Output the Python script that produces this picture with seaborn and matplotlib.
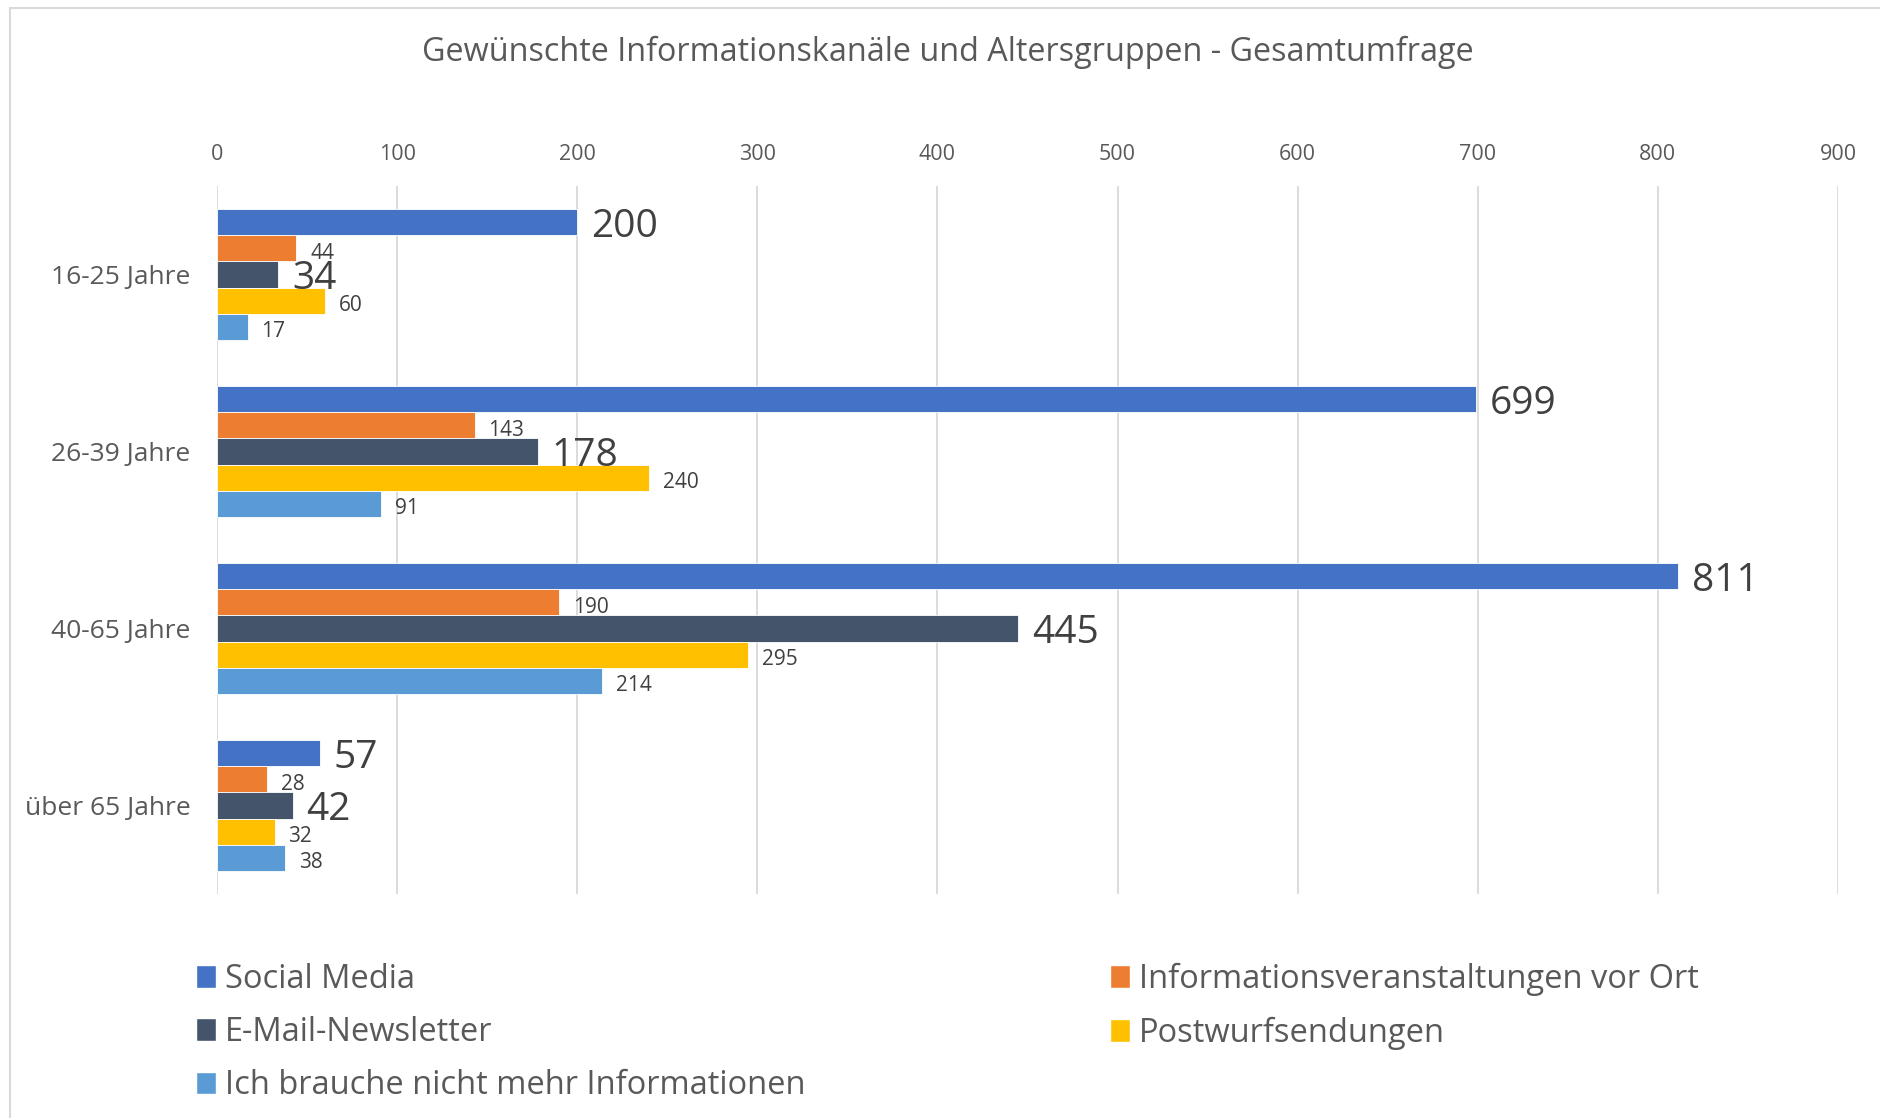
import pandas as pd
import matplotlib.pyplot as plt
import seaborn as sns
from matplotlib.patches import Patch, Rectangle

# Daten aus der Umfrage
altersgruppen = ['16-25 Jahre', '26-39 Jahre', '40-65 Jahre', 'über 65 Jahre']
kanaele = ['Social Media', 'Informationsveranstaltungen vor Ort', 'E-Mail-Newsletter',
           'Postwurfsendungen', 'Ich brauche nicht mehr Informationen']
social_media = [200, 699, 811, 57]
info_vor_ort = [44, 143, 190, 28]
email_newsletter = [34, 178, 445, 42]
postwurf = [60, 240, 295, 32]
keine_info = [17, 91, 214, 38]
x_ticks = [0, 100, 200, 300, 400, 500, 600, 700, 800, 900]

farben = ['#4472C4', '#ED7D31', '#44546A', '#FFC000', '#5B9BD5']

rows = []
for kanal, werte in zip(kanaele, [social_media, info_vor_ort, email_newsletter, postwurf, keine_info]):
    for gruppe, wert in zip(altersgruppen, werte):
        rows.append({'Altersgruppe': gruppe, 'Kanal': kanal, 'Anzahl': wert})
df = pd.DataFrame(rows)

sns.set_style('white')
plt.rcParams['font.family'] = ['Open Sans', 'DejaVu Sans']

fig = plt.figure(figsize=(18.81, 11.18), dpi=100)
ax = fig.add_axes([217 / 1881, 1 - 894 / 1118, (1838 - 217) / 1881, (894 - 186) / 1118])

sns.barplot(data=df, y='Altersgruppe', x='Anzahl', hue='Kanal', order=altersgruppen,
            hue_order=kanaele, palette=dict(zip(kanaele, farben)), orient='h',
            width=0.735, saturation=1, edgecolor='white', linewidth=0.6, ax=ax, legend=False)

# Datenbeschriftungen - Social Media und Newsletter groesser
for i, cont in enumerate(ax.containers):
    if i in (0, 2):
        labels = ax.bar_label(cont, padding=10, fontsize=28, color='#404040')
    else:
        labels = ax.bar_label(cont, padding=10, fontsize=15, color='#404040')
    for t in labels:
        t.set_y(-3.5)

ax.set_xlim(0, 900)
ax.set_ylim(3.5, -0.5)
ax.set_xticks(x_ticks)
ax.xaxis.tick_top()
ax.tick_params(axis='x', length=0, pad=15, labelsize=15.5, labelcolor='#595959')
ax.tick_params(axis='y', length=0, pad=19, labelsize=19, labelcolor='#595959')
ax.set_xlabel('')
ax.set_ylabel('')
ax.grid(axis='x', color='#D9D9D9', linewidth=1.3)
ax.set_axisbelow(True)
for s in ax.spines.values():
    s.set_visible(False)

fig.text(948 / 1881, 1 - 52 / 1118, 'Gewünschte Informationskanäle und Altersgruppen - Gesamtumfrage',
         ha='center', va='center', fontsize=23.3, color='#595959')

# Legende in zwei Spalten
handles = [Patch(facecolor=c) for c in farben]
leg_opts = dict(frameon=False, fontsize=23.5, labelcolor='#595959', handlelength=0.6,
                handleheight=0.7, handletextpad=0.3, labelspacing=0.62, borderaxespad=0,
                borderpad=0)
fig.legend([handles[0], handles[2], handles[4]], [kanaele[0], kanaele[2], kanaele[4]],
           loc='upper left', bbox_to_anchor=(196 / 1881, 1 - 963 / 1118), **leg_opts)
fig.legend([handles[1], handles[3]], [kanaele[1], kanaele[3]],
           loc='upper left', bbox_to_anchor=(1110 / 1881, 1 - 963 / 1118), **leg_opts)

# Rahmen um das Diagramm
fig.patches.append(Rectangle((10 / 1881, -0.1), 1.5, 1.1 - 8 / 1118, transform=fig.transFigure,
                             fill=False, edgecolor='#D9D9D9', linewidth=1.5))

fig.savefig('out.png', dpi=100)
